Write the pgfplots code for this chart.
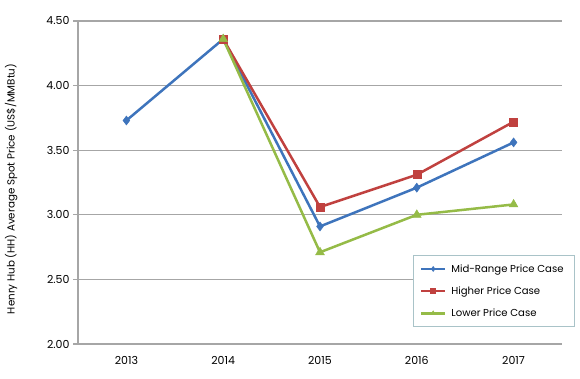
\documentclass[border=0pt]{standalone}
\usepackage{pgfplots}
\pgfplotsset{compat=1.18}
\usepackage{fontspec}
\setmainfont{Poppins}
\definecolor{cblue}{HTML}{3E74BC}
\definecolor{cred}{HTML}{C0413F}
\definecolor{cgreen}{HTML}{95BB47}
\definecolor{cgrid}{HTML}{A6A6A6}
\definecolor{clegend}{HTML}{A9C3C8}
\begin{document}
\begin{tikzpicture}[x=1pt,y=1pt]
\begin{axis}[
  scale only axis,
  width=484pt, height=323pt,
  xmin=-0.5, xmax=4.5,
  ymin=2, ymax=4.5,
  ytick={2,2.5,3,3.5,4,4.5},
  yticklabel style={/pgf/number format/.cd,fixed,fixed zerofill,precision=2},
  /pgf/number format/assume math mode=true,
  xtick={0,1,2,3,4},
  xticklabels={2013,2014,2015,2016,2017},
  extra x ticks={-0.5,0.5,1.5,2.5,3.5,4.5},
  extra x tick labels={},
  extra x tick style={major tick length=5pt, tick style={cgrid, line width=1.2pt}, grid=none},
  major x tick style={draw=none},
  axis x line*=bottom,
  axis y line*=left,
  axis line style={cgrid, line width=1.2pt, -},
  ymajorgrids,
  major grid style={cgrid, line width=1.2pt},
  y tick style={cgrid, line width=1.2pt},
  major tick length=5pt,
  tick align=outside,
  ticklabel style={font=\fontsize{11}{13}\selectfont},
  xticklabel style={yshift=-4pt},
  ylabel={Henry Hub (HH) Average Spot Price (US\$/MMBtu)},
  ylabel style={font=\fontsize{10.3}{12}\selectfont, at={(rel axis cs:0,0.48)}, anchor=south, yshift=57pt},
  legend style={at={(rel axis cs:1.027,0.276)}, anchor=north east, draw=clegend, line width=1pt,
    font=\fontsize{10.1}{12}\selectfont, inner xsep=6pt, inner ysep=7pt, row sep=9pt, fill=white,
    nodes={inner xsep=5pt}},
  legend image code/.code={\draw[#1, line width=2.5pt] (0pt,0pt) -- (24pt,0pt);
     \draw[#1, mark repeat=2, mark phase=2, mark size=2.5pt] plot coordinates {(0pt,0pt) (12pt,0pt) (24pt,0pt)};},
  legend cell align=left,
  every axis plot/.append style={line width=2.5pt},
]
\addplot[cblue, mark=diamond*, mark size=4.5pt, mark options={solid, line width=0.5pt}] coordinates {
(0,3.73) (1,4.36) (2,2.91) (3,3.21) (4,3.56)};
\addlegendentry{Mid-Range Price Case}
\addplot[cred, mark=square*, mark size=4pt, mark options={solid, line width=0.5pt}] coordinates {
(1,4.36) (2,3.06) (3,3.31) (4,3.72)};
\addlegendentry{Higher Price Case}
\addplot[cgreen, mark=triangle*, mark size=5pt, mark options={solid, line width=0.5pt}] coordinates {
(1,4.36) (2,2.71) (3,3.00) (4,3.08)};
\addlegendentry{Lower Price Case}
\end{axis}
\pgfresetboundingbox
\path (current axis.south west) ++(-78pt,-35pt) coordinate (bl);
\path (current axis.north east) ++(18pt,21pt) coordinate (tr);
\path[use as bounding box] (bl) rectangle (tr);
\end{tikzpicture}
\end{document}
